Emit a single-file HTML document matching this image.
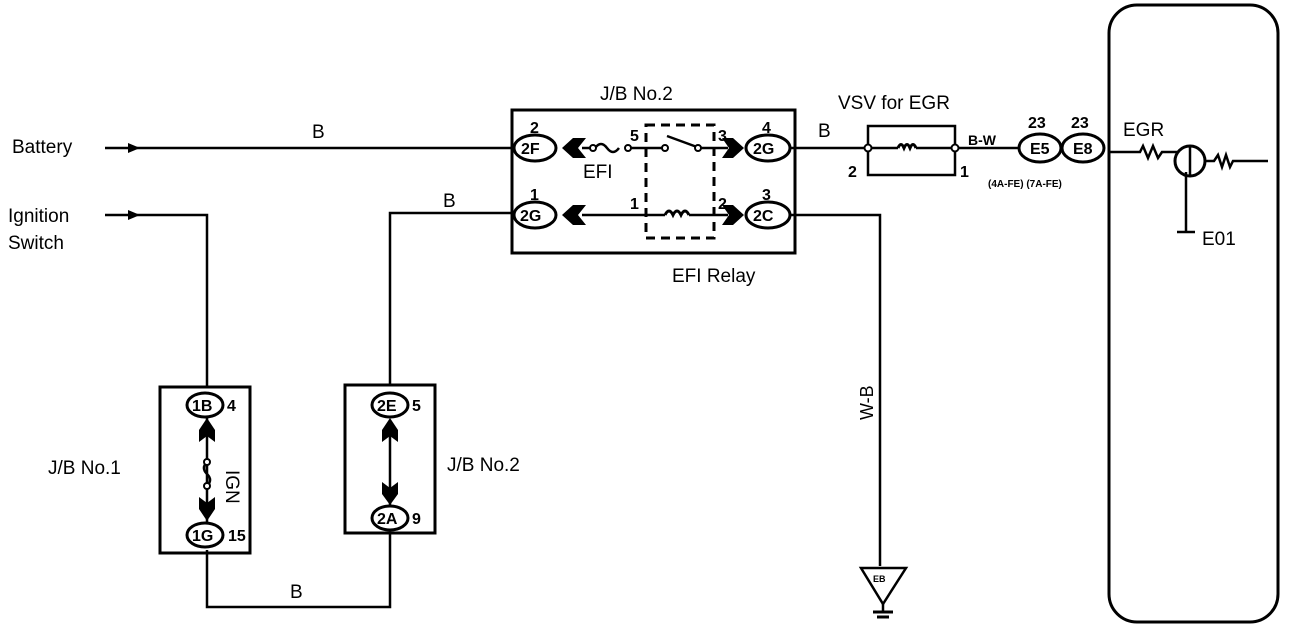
<!DOCTYPE html>
<html><head><meta charset="utf-8"><style>
html,body{margin:0;padding:0;background:#fff;}
svg{display:block;}
text{font-family:"Liberation Sans",Arial,sans-serif;fill:#000;}
</style></head><body>
<svg width="1296" height="628" viewBox="0 0 1296 628" xmlns="http://www.w3.org/2000/svg">
<g stroke="#000" fill="none" stroke-width="2.5">
<line x1="105" y1="148" x2="515" y2="148"/>
<polyline points="105,215 207,215 207,387"/>
<rect x="160" y="387" width="90" height="166" stroke-width="3"/>
<polyline points="207,550 207,607 390,607 390,532"/>
<rect x="345" y="385" width="90" height="148" stroke-width="3"/>
<polyline points="390,385 390,213 515,213"/>
<rect x="512" y="110" width="283" height="143" stroke-width="3"/>
<rect x="646" y="125" width="68" height="113" stroke-dasharray="9,6" stroke-width="3"/>
<line x1="582" y1="148" x2="595" y2="148"/>
<path d="M595,148 q6,-8 12,0 q6,8 12,0"/>
<line x1="627" y1="148" x2="665" y2="148"/>
<line x1="667" y1="136" x2="697" y2="147"/>
<line x1="699" y1="148" x2="728" y2="148"/>
<line x1="582" y1="215" x2="665" y2="215"/>
<path d="M665,215 q4,-8 8,0 q4,-8 8,0 q4,-8 8,0" stroke-width="3"/>
<line x1="689" y1="215" x2="728" y2="215"/>
<line x1="790" y1="148" x2="868" y2="148"/>
<polyline points="790,215 880,215 880,566"/>
<polyline points="868,148 868,126 955,126 955,148"/>
<polyline points="868,148 868,175 955,175 955,148"/>
<line x1="868" y1="148" x2="898" y2="148"/>
<path d="M898,148 q3,-7 6,0 q3,-7 6,0 q3,-7 6,0" stroke-width="3"/>
<line x1="916" y1="148" x2="955" y2="148"/>
<line x1="955" y1="148" x2="1018" y2="148"/>
<rect x="1109" y="5" width="169" height="617" rx="28" stroke-width="3"/>
<polyline points="1110,152 1140,152 1143,146 1148,158 1153,146 1158,158 1162,152 1178,152"/>
<circle cx="1190" cy="161" r="15" stroke-width="3"/>
<line x1="1190" y1="146" x2="1190" y2="176"/>
<polyline points="1205,161 1214,161 1218,155 1222,167 1226,155 1230,167 1233,161 1268,161"/>
<line x1="1186" y1="172" x2="1186" y2="232"/>
<line x1="1177" y1="232" x2="1195" y2="232"/>
<polygon points="861,568 906,568 883,604"/>
<line x1="883" y1="604" x2="883" y2="612"/>
<line x1="873" y1="612" x2="893" y2="612" stroke-width="3"/>
<line x1="877" y1="617" x2="889" y2="617" stroke-width="3"/>
<line x1="207" y1="418" x2="207" y2="522"/>
<path d="M207,462 q-6,6 0,12 q6,6 0,12"/>
<line x1="390" y1="420" x2="390" y2="505"/>
</g>
<g stroke="#000" stroke-width="2" fill="#fff">
<circle cx="593" cy="148" r="3"/><circle cx="628" cy="148" r="3"/>
<circle cx="665" cy="148" r="3"/><circle cx="698" cy="148" r="3"/>
<circle cx="868" cy="148" r="3.5"/><circle cx="955" cy="148" r="3.5"/>
<circle cx="207" cy="462" r="3"/><circle cx="207" cy="486" r="3"/>
</g>
<g fill="#000">
<polygon points="128,143 140,148 128,153"/>
<polygon points="128,210 140,215 128,220"/>
<polygon points="562,148 573,138 586,138 578,148 586,158 573,158"/>
<polygon points="562,215 573,205 586,205 578,215 586,225 573,225"/>
<polygon points="722,138 733,138 744,148 733,158 722,158 729,148"/>
<polygon points="722,205 733,205 744,215 733,225 722,225 729,215"/>
<polygon points="199,430 207,418 215,430 215,442 207,436 199,442"/>
<polygon points="199,497 207,503 215,497 215,509 207,521 199,509"/>
<polygon points="382,430 390,418 398,430 398,442 390,436 382,442"/>
<polygon points="382,482 390,488 398,482 398,494 390,505 382,494"/>
</g>
<g stroke="#000" stroke-width="3" fill="#fff">
<ellipse cx="535" cy="148" rx="21" ry="13"/>
<ellipse cx="535" cy="215" rx="21" ry="13"/>
<ellipse cx="768" cy="148" rx="22" ry="13"/>
<ellipse cx="768" cy="215" rx="22" ry="13"/>
<ellipse cx="1040" cy="148" rx="21" ry="14"/>
<ellipse cx="1083" cy="148" rx="21" ry="14"/>
<ellipse cx="205" cy="405" rx="18" ry="12"/>
<ellipse cx="205" cy="535" rx="18" ry="12"/>
<ellipse cx="390" cy="405" rx="18" ry="12"/>
<ellipse cx="390" cy="518" rx="18" ry="12"/>
</g>
<g font-size="19">
<text x="12" y="153">Battery</text>
<text x="8" y="222">Ignition</text>
<text x="8" y="249">Switch</text>
<text x="312" y="138">B</text>
<text x="443" y="207">B</text>
<text x="290" y="598">B</text>
<text x="818" y="137">B</text>
<text x="600" y="100">J/B No.2</text>
<text x="583" y="178">EFI</text>
<text x="672" y="282">EFI Relay</text>
<text x="838" y="109">VSV for EGR</text>
<text x="1123" y="136">EGR</text>
<text x="1202" y="245">E01</text>
<text x="48" y="474">J/B No.1</text>
<text x="447" y="471">J/B No.2</text>
</g>
<g font-size="16" font-weight="bold">
<text x="530" y="133">2</text><text x="530" y="200">1</text>
<text x="762" y="133">4</text><text x="762" y="200">3</text>
<text x="630" y="141">5</text><text x="630" y="209">1</text>
<text x="718" y="141">3</text><text x="718" y="209">2</text>
<text x="521" y="154">2F</text><text x="520" y="221">2G</text>
<text x="753" y="154">2G</text><text x="753" y="221">2C</text>
<text x="848" y="177">2</text><text x="960" y="177">1</text>
<text x="1028" y="128">23</text><text x="1071" y="128">23</text>
<text x="1030" y="154">E5</text><text x="1073" y="154">E8</text>
<text x="192" y="411">1B</text><text x="227" y="411">4</text>
<text x="192" y="541">1G</text><text x="228" y="541">15</text>
<text x="377" y="411">2E</text><text x="412" y="411">5</text>
<text x="377" y="524">2A</text><text x="412" y="524">9</text>
<text x="968" y="145" font-size="14">B-W</text>
<text x="988" y="187" font-size="10">(4A-FE) (7A-FE)</text>
<text x="873" y="582" font-size="9">EB</text>
</g>
<text x="0" y="0" font-size="19" transform="translate(226,470) rotate(90)">IGN</text>
<text x="0" y="0" font-size="18" transform="translate(873,420) rotate(-90)">W-B</text>
</svg>
</body></html>
